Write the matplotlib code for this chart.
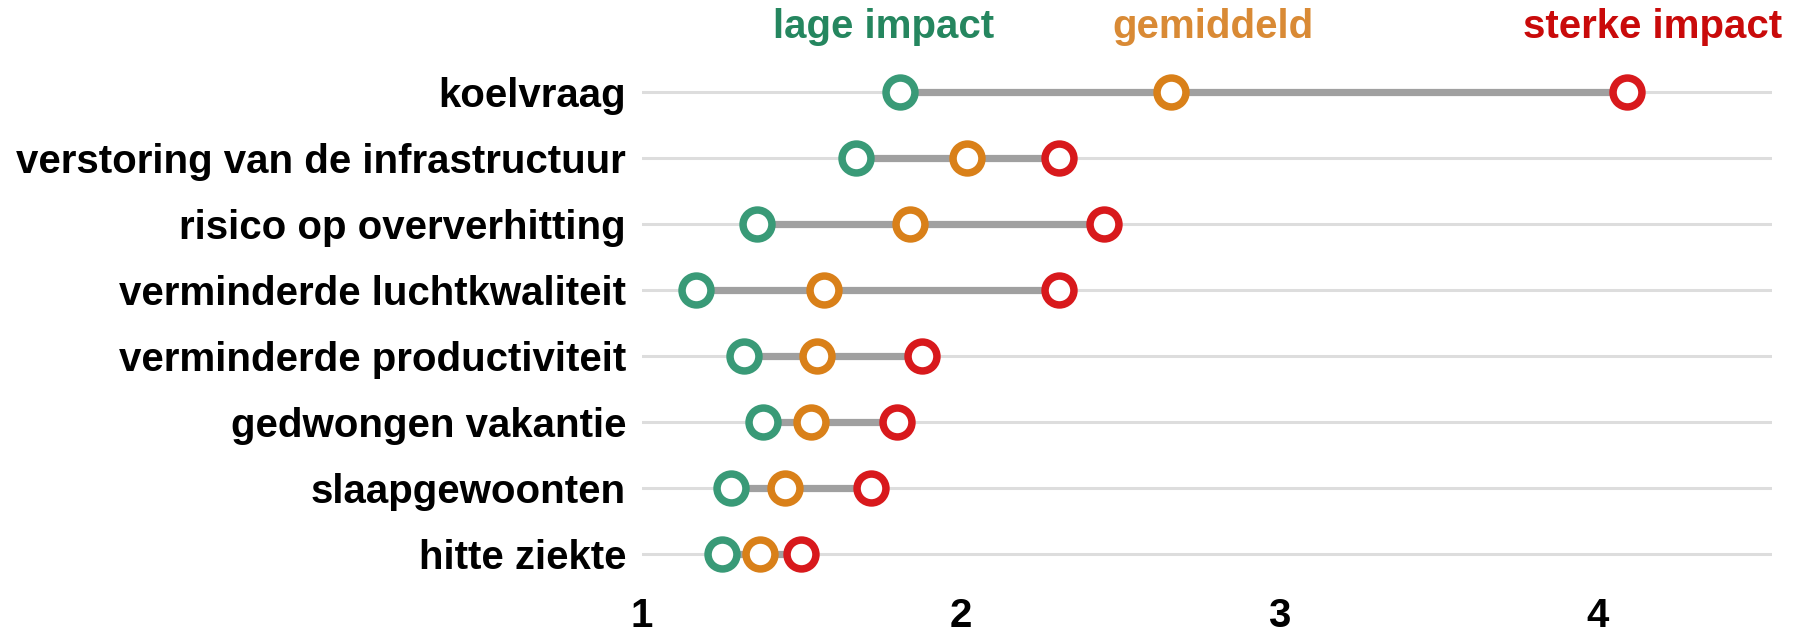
import matplotlib
matplotlib.use("Agg")
import matplotlib.pyplot as plt

categories = ["koelvraag", "verstoring van de infrastructuur", "risico op oververhitting",
              "verminderde luchtkwaliteit", "verminderde productiviteit", "gedwongen vakantie",
              "slaapgewoonten", "hitte ziekte"]
lage = [1.81, 1.67, 1.36, 1.17, 1.32, 1.38, 1.28, 1.25]
gemiddeld = [2.66, 2.02, 1.84, 1.57, 1.55, 1.53, 1.45, 1.37]
sterke = [4.09, 2.31, 2.45, 2.31, 1.88, 1.80, 1.72, 1.50]
series_names = ["lage impact", "gemiddeld", "sterke impact"]
xticks = [1, 2, 3, 4]

plt.rcParams['font.family'] = ['Liberation Sans', 'DejaVu Sans']

c_green = "#399a77"
c_orange = "#d98019"
c_red = "#d8191c"
t_green = "#25865f"
t_orange = "#d98a35"
t_red = "#c90a0a"

W, H = 1802, 643
fig = plt.figure(figsize=(W / 100, H / 100), dpi=100)
ax = fig.add_axes([642 / W, 1 - 587 / H, (1772 - 642) / W, 528 / H])

ys = list(range(len(categories)))
for y in ys:
    ax.axhline(y, color="#dddddd", lw=2.2, zorder=1)
for y, a, b, c in zip(ys, lage, gemiddeld, sterke):
    lo, hi = min(a, b, c), max(a, b, c)
    ax.plot([lo, hi], [y, y], color="#a0a0a0", lw=5.2, zorder=2, solid_capstyle="butt")

for vals, col in [(lage, c_green), (gemiddeld, c_orange), (sterke, c_red)]:
    ax.plot(vals, ys, 'o', ms=20.8, mfc="white", mec=col, mew=5.4, zorder=3, ls='none')

ax.set_ylim(len(categories) - 0.5, -0.5)
ax.set_xlim(1.0, 4.546)
ax.set_yticks(ys)
ax.set_yticklabels(categories, fontsize=29, fontweight="bold")
ax.set_xticks(xticks)
ax.set_xticklabels([str(t) for t in xticks], fontsize=29, fontweight="bold")
ax.tick_params(axis="y", length=0, pad=11.5)
ax.tick_params(axis="x", length=0, pad=7.3)
for s in ax.spines.values():
    s.set_visible(False)

hy = 1 - 38 / H
fig.text(884 / W, hy, series_names[0], color=t_green, fontsize=29,
         fontweight="bold", ha="center", va="baseline")
fig.text(1213 / W, hy, series_names[1], color=t_orange, fontsize=29,
         fontweight="bold", ha="center", va="baseline")
fig.text(1782 / W, hy, series_names[2], color=t_red, fontsize=29,
         fontweight="bold", ha="right", va="baseline")

fig.savefig("out.png", dpi=100)
